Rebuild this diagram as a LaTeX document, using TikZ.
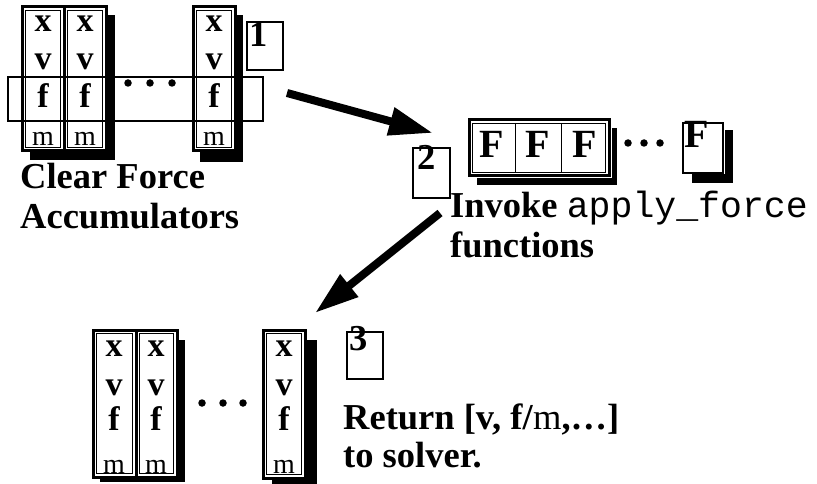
\documentclass[tikz,border=0pt]{standalone}
\usepackage{fontspec}
\setmainfont{Liberation Serif}
\setmonofont{Liberation Mono}
\usetikzlibrary{arrows.meta}
\newcommand\partcol[4]{%
  \draw[colouter] (#1,#2) rectangle (#3,#4);
  \draw[colinner] ({#1+3.5},{#2+3.5}) rectangle ({#3-3.5},{#4-3.5});}
\begin{document}
\begin{tikzpicture}[x=1pt,y=-1pt,
  shadowbox/.style={fill=black},
  halo/.style={draw=white, line width=5pt},
  colouter/.style={draw=black, line width=3pt, fill=white},
  colinner/.style={draw=black, line width=0.9pt},
  lbl/.style={inner sep=0pt, anchor=base, font=\fontsize{34}{34}\selectfont\bfseries},
  lblm/.style={inner sep=0pt, anchor=base, font=\fontsize{28}{28}\selectfont},
  big/.style={inner sep=0pt, anchor=base west, font=\fontsize{36.5}{36}\selectfont\bfseries},
  bigF/.style={inner sep=0pt, anchor=base, font=\fontsize{40}{40}\selectfont\bfseries},
  tagbox/.style={draw=black, line width=1.5pt, fill=white},
  bandbox/.style={draw=black, line width=1.8pt},
  bigarrow/.style={line width=8pt, -{Triangle[length=44pt,width=27pt]}},
  dot/.style={circle, fill=black, inner sep=0pt, minimum size=7.5pt}
]
\useasboundingbox[fill=white] (0,0) rectangle (817,484);

% ---------- group 1 : clear force accumulators ----------
\fill[shadowbox] (30,15) rectangle (115,160);
\fill[shadowbox] (200,15) rectangle (243,162);
\partcol{22}{7}{64}{151}
\partcol{64}{7}{106}{151}
\partcol{193}{7}{235}{151}
\foreach \cx/\n in {43/a,85/b,214/c}{
  \node[lbl] (g1x\n) at (\cx,32) {x};
  \node[lbl] (g1v\n) at (\cx,70) {v};
  \node[lbl] (g1f\n) at (\cx,108) {f};
  \node[lblm] (g1m\n) at (\cx,146) {m};
}
\draw[bandbox] (8,77) rectangle (263,121);
\node[dot] (g1d1) at (128,83) {};
\node[dot] (g1d2) at (150,83) {};
\node[dot] (g1d3) at (172,83) {};
\draw[tagbox] (247,22) rectangle (283,70);
\node[big] (tag1) at (249,47) {1};
\node[big] (clear1) at (20,189) {Clear Force};
\node[big] (clear2) at (20,228) {Accumulators};

% ---------- group 2 : apply forces ----------
\fill[shadowbox] (477,128) rectangle (617,185);
\draw[halo] (469,120) rectangle (609,176);
\draw[colouter] (469,120) rectangle (609,176);
\draw[colinner] (472.5,123.5) rectangle (605.5,172.5);
\draw[colinner] (515,123) -- (515,173);
\draw[colinner] (561,123) -- (561,173);
\foreach \cx/\n in {492/a,538/b,585/c}{
  \node[bigF] (ff\n) at (\cx,158) {F};
}
\node[dot] (g2d1) at (628,143) {};
\node[dot] (g2d2) at (644,143) {};
\node[dot] (g2d3) at (660,143) {};
\fill[shadowbox] (692,130) rectangle (733,183);
\draw[halo, line width=3pt] (683,123) rectangle (723,173);
\draw[tagbox] (683,123) rectangle (723,173);
\node[bigF, anchor=base west] (ffn) at (684,148) {F};
\draw[tagbox] (413,148) rectangle (450,198);
\node[big] (tag2) at (417,170) {2};
\node[big] (inv1) at (450,218) {Invoke {\mdseries\ttfamily apply\_force}};
\node[big] (inv2) at (450,257) {functions};

% ---------- group 3 : return to solver ----------
\fill[shadowbox] (100,340) rectangle (185,482);
\fill[shadowbox] (272,340) rectangle (317,485);
\draw[halo, line width=3pt] (263,330) rectangle (305,478);
\partcol{93}{330}{136}{477}
\partcol{136}{330}{177}{477}
\partcol{263}{330}{305}{478}
\foreach \cx/\n in {114/a,156/b,284/c}{
  \node[lbl] (g3x\n) at (\cx,356) {x};
  \node[lbl] (g3v\n) at (\cx,395) {v};
  \node[lbl] (g3f\n) at (\cx,430) {f};
  \node[lblm] (g3m\n) at (\cx,473) {m};
}
\node[dot] (g3d1) at (202,403) {};
\node[dot] (g3d2) at (223,403) {};
\node[dot] (g3d3) at (243,403) {};
\draw[tagbox] (347,332) rectangle (383,379);
\node[big] (tag3) at (349,350) {3};
\node[big] (ret1) at (343,429) {Return [v, f/\textmd{m},…]};
\node[big] (ret2) at (343,467) {to solver.};

% ---------- arrows ----------
\coordinate (a1s) at (287,93);
\coordinate (a1e) at (433,133);
\coordinate (a2s) at (440,213);
\coordinate (a2e) at (315,313);
\draw[bigarrow] (a1s) -- (a1e);
\draw[bigarrow] (a2s) -- (a2e);
\end{tikzpicture}
\end{document}
